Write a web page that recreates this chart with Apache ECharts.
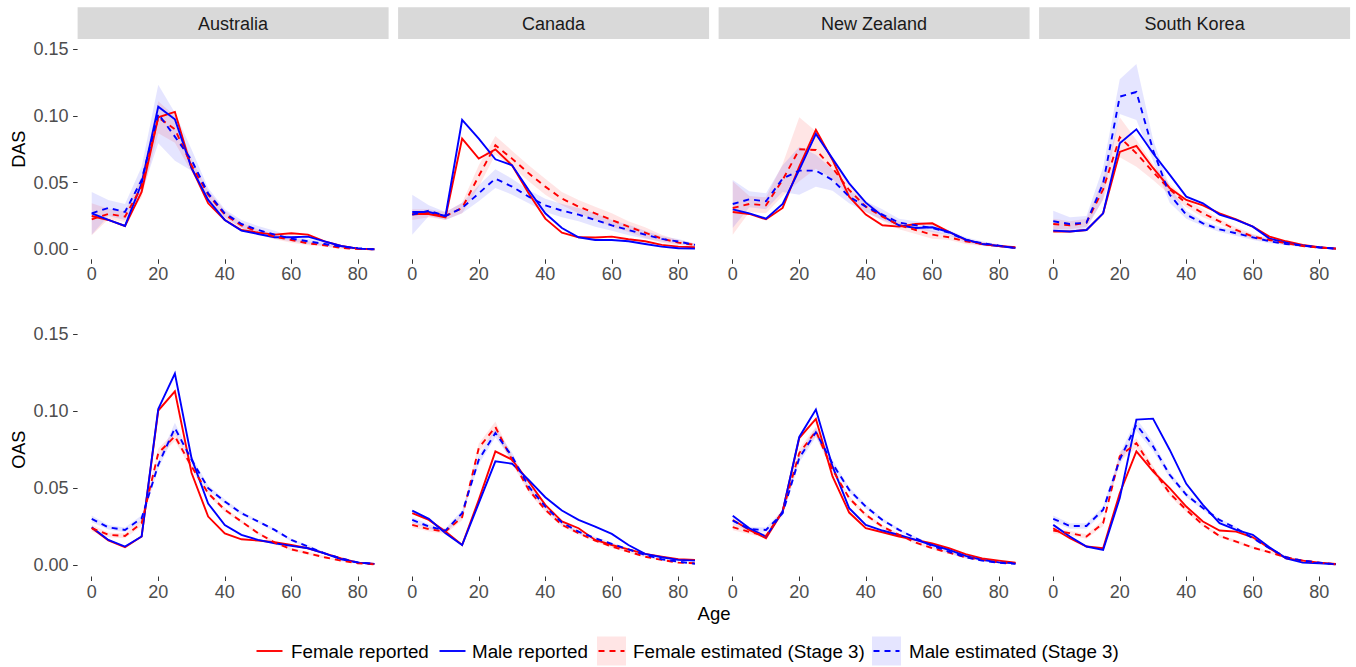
<!DOCTYPE html>
<html><head><meta charset="utf-8">
<script src="https://cdn.jsdelivr.net/npm/echarts@6/dist/echarts.min.js"></script>
<style>html,body{margin:0;padding:0;background:#fff}#chart{width:1356px;height:667px}</style>
</head><body><div id="chart"></div>
<script>
// ---------- categories / ticks ----------
const ages = [0,5,10,15,20,25,30,35,40,45,50,55,60,65,70,75,80,85];
const countries = ['Australia','Canada','New Zealand','South Korea'];
const measures = ['DAS','OAS'];
const xTicks = [0,20,40,60,80];
const yTicks = [0,0.05,0.10,0.15];
const legendLabels = ['Female reported','Male reported','Female estimated (Stage 3)','Male estimated (Stage 3)'];

// ---------- DAS ----------
const ausDasFemRep = [0.025,0.022,0.0175,0.043,0.099,0.103,0.061,0.0345,0.022,0.0145,0.0125,0.011,0.012,0.011,0.006,0.0025,0.0005,0.0];
const ausDasMalRep = [0.027,0.022,0.0175,0.0495,0.107,0.0975,0.061,0.037,0.022,0.014,0.0115,0.009,0.009,0.0095,0.006,0.0025,0.0005,0.0];
const ausDasFemEst = [0.0225,0.0265,0.0245,0.047,0.099,0.09,0.063,0.041,0.026,0.018,0.013,0.0095,0.007,0.0045,0.003,0.001,0.0003,0.0];
const ausDasMalEst = [0.027,0.031,0.028,0.052,0.1015,0.0845,0.067,0.042,0.027,0.019,0.0145,0.011,0.008,0.006,0.004,0.002,0.0008,0.0];
const ausDasFemBand = [0.012,0.004,0.004,0.008,0.012,0.01,0.005,0.003,0.003,0.002,0.002,0.002,0.002,0.0015,0.001,0.001,0.0005,0.0003];
const ausDasMalBand = [0.016,0.006,0.006,0.01,0.022,0.018,0.008,0.004,0.003,0.003,0.003,0.003,0.002,0.002,0.0015,0.001,0.0005,0.0003];

const canDasFemRep = [0.0265,0.0265,0.024,0.083,0.068,0.075,0.063,0.042,0.023,0.0125,0.009,0.0088,0.0095,0.0075,0.006,0.0033,0.002,0.0015];
const canDasMalRep = [0.028,0.028,0.025,0.097,0.083,0.0675,0.063,0.0445,0.027,0.016,0.009,0.007,0.007,0.006,0.004,0.002,0.0008,0.0005];
const canDasFemEst = [0.026,0.027,0.025,0.031,0.055,0.078,0.068,0.057,0.047,0.038,0.032,0.027,0.022,0.017,0.0125,0.008,0.005,0.0033];
const canDasMalEst = [0.026,0.029,0.025,0.031,0.042,0.053,0.047,0.0395,0.033,0.029,0.026,0.022,0.018,0.0145,0.011,0.0078,0.0058,0.0033];
const canDasFemBand = [0.004,0.003,0.003,0.004,0.008,0.007,0.006,0.006,0.006,0.005,0.005,0.005,0.005,0.004,0.004,0.003,0.002,0.001];
const canDasMalBand = [0.015,0.004,0.003,0.004,0.006,0.007,0.006,0.005,0.005,0.005,0.005,0.005,0.004,0.004,0.003,0.002,0.002,0.001];

const nzDasFemRep = [0.028,0.0265,0.0225,0.031,0.062,0.0895,0.067,0.0395,0.026,0.018,0.017,0.019,0.0195,0.013,0.007,0.004,0.0025,0.0015];
const nzDasMalRep = [0.03,0.027,0.023,0.034,0.0595,0.0865,0.068,0.0495,0.035,0.025,0.018,0.016,0.0165,0.013,0.0075,0.004,0.0025,0.001];
const nzDasFemEst = [0.031,0.034,0.033,0.052,0.075,0.0745,0.061,0.0445,0.032,0.0245,0.018,0.0145,0.011,0.009,0.006,0.004,0.0025,0.0013];
const nzDasMalEst = [0.034,0.0375,0.036,0.053,0.059,0.059,0.052,0.0395,0.032,0.026,0.02,0.018,0.016,0.0125,0.007,0.0045,0.0028,0.001];
const nzDasFemBand = [0.02,0.006,0.006,0.012,0.024,0.014,0.008,0.005,0.004,0.003,0.003,0.003,0.003,0.002,0.002,0.0015,0.001,0.0005];
const nzDasMalBand = [0.018,0.006,0.006,0.01,0.018,0.012,0.008,0.005,0.004,0.004,0.003,0.003,0.003,0.002,0.002,0.0015,0.001,0.0005];

const skDasFemRep = [0.0133,0.0133,0.0145,0.027,0.073,0.0775,0.061,0.046,0.037,0.033,0.027,0.0225,0.017,0.0095,0.006,0.0033,0.0015,0.0005];
const skDasMalRep = [0.014,0.0133,0.0145,0.027,0.0795,0.09,0.072,0.056,0.0395,0.0345,0.026,0.022,0.017,0.008,0.005,0.0028,0.0013,0.0005];
const skDasFemEst = [0.019,0.018,0.02,0.045,0.084,0.072,0.058,0.045,0.0345,0.027,0.021,0.0145,0.0095,0.007,0.0045,0.0025,0.0013,0.0005];
const skDasMalEst = [0.021,0.019,0.02,0.0495,0.1145,0.118,0.0745,0.041,0.026,0.0195,0.015,0.012,0.009,0.006,0.004,0.0028,0.0015,0.0005];
const skDasFemBand = [0.004,0.003,0.003,0.008,0.015,0.01,0.006,0.004,0.003,0.003,0.002,0.002,0.002,0.0015,0.001,0.001,0.0005,0.0003];
const skDasMalBand = [0.008,0.005,0.005,0.012,0.013,0.021,0.008,0.006,0.003,0.002,0.002,0.002,0.002,0.0015,0.001,0.001,0.0005,0.0003];

// ---------- OAS ----------
const ausOasFemRep = [0.024,0.016,0.0115,0.0185,0.1005,0.113,0.06,0.0315,0.0205,0.0167,0.0159,0.0148,0.013,0.0109,0.0076,0.0043,0.0015,0.0007];
const ausOasMalRep = [0.0245,0.0163,0.012,0.0185,0.1015,0.1245,0.0695,0.04,0.026,0.0196,0.0163,0.0141,0.0124,0.0109,0.0076,0.0037,0.0015,0.0007];
const ausOasFemEst = [0.024,0.0196,0.0189,0.0272,0.0728,0.0837,0.0641,0.0467,0.0359,0.0283,0.0207,0.0146,0.0102,0.0076,0.005,0.0028,0.0011,0.0004];
const ausOasMalEst = [0.03,0.0245,0.0228,0.0304,0.0652,0.0891,0.0685,0.05,0.0413,0.0337,0.0283,0.0228,0.0163,0.012,0.0076,0.0043,0.0017,0.0007];
const ausOasFemBand = [0.002,0.0015,0.0015,0.002,0.003,0.003,0.002,0.0015,0.0015,0.001,0.001,0.001,0.001,0.001,0.0008,0.0005,0.0003,0.0002];
const ausOasMalBand = [0.0022,0.0015,0.0015,0.002,0.003,0.0035,0.0022,0.0018,0.0015,0.0012,0.001,0.001,0.001,0.001,0.0008,0.0005,0.0003,0.0002];

const canOasFemRep = [0.0337,0.0293,0.0217,0.013,0.0424,0.0739,0.0685,0.0543,0.0391,0.0283,0.0239,0.0163,0.013,0.0102,0.0072,0.0054,0.0037,0.0033];
const canOasMalRep = [0.0354,0.03,0.0207,0.013,0.0402,0.0674,0.0659,0.0554,0.0441,0.0354,0.0293,0.025,0.0202,0.013,0.0072,0.005,0.0033,0.0028];
const canOasFemEst = [0.0261,0.0233,0.0217,0.0311,0.0761,0.0898,0.0685,0.0489,0.0359,0.0261,0.0207,0.0159,0.012,0.0087,0.0054,0.0033,0.0015,0.0011];
const canOasMalEst = [0.0293,0.025,0.0224,0.0337,0.0685,0.0859,0.0707,0.0511,0.038,0.0276,0.0217,0.0174,0.0137,0.0102,0.0065,0.0037,0.0022,0.0008];
const canOasFemBand = [0.0018,0.0015,0.0015,0.002,0.003,0.0035,0.0025,0.0018,0.0015,0.0012,0.001,0.001,0.001,0.0008,0.0006,0.0005,0.0003,0.0002];
const canOasMalBand = [0.0018,0.0015,0.0015,0.002,0.003,0.003,0.0025,0.0018,0.0015,0.0012,0.001,0.001,0.001,0.0008,0.0006,0.0005,0.0003,0.0002];

const nzOasFemRep = [0.0293,0.0228,0.0174,0.0348,0.0826,0.095,0.0576,0.0341,0.0239,0.0213,0.0185,0.0163,0.0141,0.0109,0.007,0.0043,0.0028,0.0015];
const nzOasMalRep = [0.032,0.0239,0.0185,0.0348,0.0833,0.1011,0.0641,0.037,0.0261,0.0224,0.0196,0.0163,0.013,0.0098,0.0059,0.0033,0.0017,0.0011];
const nzOasFemEst = [0.0246,0.0215,0.0189,0.0348,0.0728,0.087,0.062,0.0435,0.0326,0.025,0.0196,0.0146,0.0109,0.008,0.005,0.0033,0.0017,0.0011];
const nzOasMalEst = [0.0289,0.0233,0.0228,0.0337,0.0696,0.0863,0.0659,0.0489,0.038,0.0293,0.0228,0.0174,0.0124,0.0087,0.005,0.0028,0.0015,0.0007];
const nzOasFemBand = [0.002,0.0015,0.0015,0.002,0.003,0.003,0.0022,0.0016,0.0014,0.0012,0.001,0.001,0.0009,0.0008,0.0006,0.0005,0.0003,0.0002];
const nzOasMalBand = [0.0022,0.0016,0.0016,0.002,0.003,0.0032,0.0024,0.0018,0.0015,0.0012,0.001,0.001,0.0009,0.0008,0.0006,0.0005,0.0003,0.0002];

const skOasFemRep = [0.0239,0.0174,0.012,0.0109,0.0467,0.0739,0.0609,0.05,0.038,0.0283,0.0224,0.0217,0.018,0.0109,0.0043,0.0028,0.0015,0.0007];
const skOasMalRep = [0.0261,0.0185,0.012,0.0098,0.0435,0.0946,0.0952,0.075,0.0528,0.0391,0.0272,0.0228,0.0196,0.0115,0.0043,0.0015,0.0011,0.0004];
const skOasFemEst = [0.0224,0.0207,0.0185,0.0272,0.0707,0.0793,0.062,0.0467,0.0359,0.0261,0.0189,0.0152,0.0113,0.0083,0.005,0.0028,0.0015,0.0004];
const skOasMalEst = [0.03,0.0254,0.0254,0.0359,0.0685,0.0913,0.0772,0.0587,0.0457,0.037,0.0293,0.0239,0.0174,0.0109,0.005,0.0028,0.0015,0.0004];
const skOasFemBand = [0.002,0.0015,0.0015,0.002,0.0032,0.0032,0.0024,0.0018,0.0015,0.0012,0.001,0.001,0.0009,0.0008,0.0006,0.0005,0.0003,0.0002];
const skOasMalBand = [0.0022,0.0018,0.0018,0.0022,0.0035,0.004,0.003,0.002,0.0016,0.0013,0.0011,0.001,0.0009,0.0008,0.0006,0.0005,0.0003,0.0002];

// ---------- layout / style ----------
const FONT = '"Liberation Sans", Arial, Helvetica, sans-serif';
const RED = '#FF0000', BLUE = '#0000FF';
const RED_FILL = 'rgba(255,0,0,0.10)', BLUE_FILL = 'rgba(0,0,255,0.10)';
const DASH = [6, 5];
const LW = 1.9;
const PANEL_LEFT = [77.6, 398.1, 718.6, 1039.1];
const PANEL_W = 311;
const ROWS = [{top: 39.3, height: 220}, {top: 322.9, height: 253.6}];

const panels = [
  {row:0,col:0,fr:ausDasFemRep,mr:ausDasMalRep,fe:ausDasFemEst,me:ausDasMalEst,fb:ausDasFemBand,mb:ausDasMalBand},
  {row:0,col:1,fr:canDasFemRep,mr:canDasMalRep,fe:canDasFemEst,me:canDasMalEst,fb:canDasFemBand,mb:canDasMalBand},
  {row:0,col:2,fr:nzDasFemRep,mr:nzDasMalRep,fe:nzDasFemEst,me:nzDasMalEst,fb:nzDasFemBand,mb:nzDasMalBand},
  {row:0,col:3,fr:skDasFemRep,mr:skDasMalRep,fe:skDasFemEst,me:skDasMalEst,fb:skDasFemBand,mb:skDasMalBand},
  {row:1,col:0,fr:ausOasFemRep,mr:ausOasMalRep,fe:ausOasFemEst,me:ausOasMalEst,fb:ausOasFemBand,mb:ausOasMalBand},
  {row:1,col:1,fr:canOasFemRep,mr:canOasMalRep,fe:canOasFemEst,me:canOasMalEst,fb:canOasFemBand,mb:canOasMalBand},
  {row:1,col:2,fr:nzOasFemRep,mr:nzOasMalRep,fe:nzOasFemEst,me:nzOasMalEst,fb:nzOasFemBand,mb:nzOasMalBand},
  {row:1,col:3,fr:skOasFemRep,mr:skOasMalRep,fe:skOasFemEst,me:skOasMalEst,fb:skOasFemBand,mb:skOasMalBand}
];

function bandSeries(i, est, band, color) {
  const lo = est.map((v, k) => v - band[k]);
  const hi = est.map((v, k) => v + band[k]);
  return {
    type: 'custom', xAxisIndex: i, yAxisIndex: i, silent: true, z: 1,
    data: ages.map((a, k) => [a, lo[k], hi[k]]),
    encode: {x: 0, y: [1, 2]},
    renderItem(params, api) {
      if (params.dataIndex !== 0) return null;
      const pts = [];
      for (let k = 0; k < ages.length; k++) pts.push(api.coord([ages[k], hi[k]]));
      for (let k = ages.length - 1; k >= 0; k--) pts.push(api.coord([ages[k], lo[k]]));
      return {type: 'polygon', shape: {points: pts}, style: {fill: color}};
    }
  };
}
function lineSeries(i, vals, color, dashed, name) {
  return {
    type: 'line', name, xAxisIndex: i, yAxisIndex: i, z: 3,
    data: ages.map((a, k) => [a, vals[k]]),
    symbol: 'none', silent: true,
    lineStyle: {color, width: LW, type: dashed ? DASH : 'solid', cap: 'butt', join: 'miter'}
  };
}

const grid = [], xAxis = [], yAxis = [], series = [];
panels.forEach((p, i) => {
  const r = ROWS[p.row];
  grid.push({left: PANEL_LEFT[p.col], top: r.top, width: PANEL_W, height: r.height, containLabel: false});
  xAxis.push({
    type: 'value', gridIndex: i, min: -4.25, max: 89.25, position: 'bottom',
    axisLine: {show: false, onZero: false}, splitLine: {show: false},
    axisTick: {show: true, customValues: xTicks, length: 4.5, lineStyle: {color: '#333333', width: 1}},
    axisLabel: {show: true, customValues: xTicks, margin: 6, fontSize: 18, color: '#4D4D4D', fontFamily: FONT}
  });
  yAxis.push({
    type: 'value', gridIndex: i, min: -0.0075, max: 0.1575, position: 'left',
    axisLine: {show: false, onZero: false}, splitLine: {show: false},
    axisTick: {show: p.col === 0, customValues: yTicks, length: 4.5, lineStyle: {color: '#333333', width: 1}},
    axisLabel: {show: p.col === 0, customValues: yTicks, margin: 9, fontSize: 18, color: '#4D4D4D', fontFamily: FONT,
                formatter: v => Number(v).toFixed(2)}
  });
  series.push(bandSeries(i, p.fe, p.fb, RED_FILL));
  series.push(bandSeries(i, p.me, p.mb, BLUE_FILL));
  series.push(lineSeries(i, p.fr, RED, false, legendLabels[0]));
  series.push(lineSeries(i, p.mr, BLUE, false, legendLabels[1]));
  series.push(lineSeries(i, p.fe, RED, true, legendLabels[2]));
  series.push(lineSeries(i, p.me, BLUE, true, legendLabels[3]));
});

// strips, axis titles, legend
const graphic = [];
countries.forEach((c, j) => {
  graphic.push({type: 'rect', silent: true, shape: {x: PANEL_LEFT[j], y: 7.3, width: PANEL_W, height: 31.7},
                style: {fill: '#D9D9D9'}});
  graphic.push({type: 'text', silent: true, x: PANEL_LEFT[j] + PANEL_W / 2, y: 23.5,
                style: {text: c, fontSize: 18, fontFamily: FONT, fill: '#1A1A1A', align: 'center', verticalAlign: 'middle'}});
});
measures.forEach((m, j) => {
  const r = ROWS[j];
  graphic.push({type: 'text', silent: true, x: 18.5, y: r.top + r.height / 2, rotation: Math.PI / 2,
                style: {text: m, fontSize: 18, fontFamily: FONT, fill: '#000', align: 'center', verticalAlign: 'middle'}});
});
graphic.push({type: 'text', silent: true, x: 714, y: 613,
              style: {text: 'Age', fontSize: 18.5, fontFamily: FONT, fill: '#000', align: 'center', verticalAlign: 'middle'}});

const LEG_Y = 651;
const legendItems = [
  {kx: 255, tx: 291, color: RED, dashed: false, fill: null},
  {kx: 438, tx: 472, color: BLUE, dashed: false, fill: null},
  {kx: 597, tx: 633, color: RED, dashed: true, fill: RED_FILL},
  {kx: 872, tx: 909, color: BLUE, dashed: true, fill: BLUE_FILL}
];
legendItems.forEach((it, j) => {
  if (it.fill) graphic.push({type: 'rect', silent: true, shape: {x: it.kx, y: LEG_Y - 14.5, width: 29, height: 29}, style: {fill: it.fill}});
  graphic.push({type: 'line', silent: true, shape: {x1: it.kx + 1.5, y1: LEG_Y, x2: it.kx + 27.5, y2: LEG_Y},
                style: {stroke: it.color, lineWidth: LW, lineDash: it.dashed ? DASH : null}});
  graphic.push({type: 'text', silent: true, x: it.tx, y: LEG_Y,
                style: {text: legendLabels[j], fontSize: 18.8, fontFamily: FONT, fill: '#000', align: 'left', verticalAlign: 'middle'}});
});

const chart = echarts.init(document.getElementById('chart'), null, {renderer: 'svg'});
chart.setOption({
  animation: false,
  backgroundColor: '#FFFFFF',
  grid, xAxis, yAxis, series, graphic
});
</script>
</body></html>
